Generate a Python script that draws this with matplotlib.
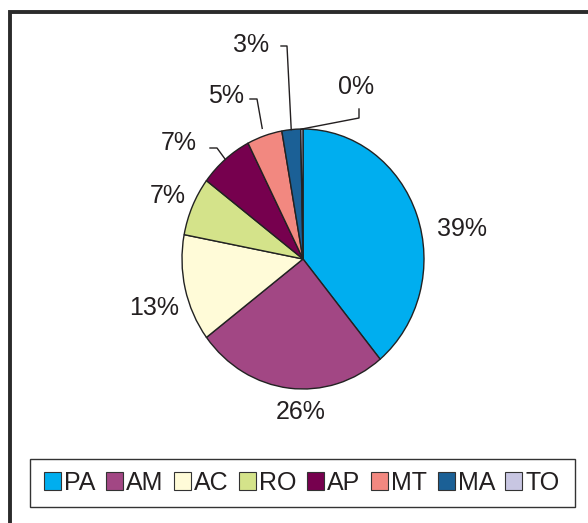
import matplotlib.pyplot as plt
import numpy as np
from matplotlib.patches import Rectangle, Patch

plt.rcParams['font.family'] = ['Liberation Sans', 'DejaVu Sans']

# data
states = ['PA', 'AM', 'AC', 'RO', 'AP', 'MT', 'MA', 'TO']
shares = [39.0, 25.7, 13.3, 7.3, 7.2, 4.7, 2.5, 0.3]
pct_labels = ['39%', '26%', '13%', '7%', '7%', '5%', '3%', '0%']
colors = ['#00AEEF', '#A24784', '#FFFBD8', '#D4E38A', '#76004E',
          '#F28880', '#1B6096', '#C8C6E2']

W, H = 588, 523
fig = plt.figure(figsize=(W / 100, H / 100), dpi=100)

# pie centre and radii in pixels
cx, cy, rx, ry = 303, 259, 121, 130
ax = fig.add_axes([(cx - rx) / W, (H - cy - ry) / H, 2 * rx / W, 2 * ry / H])

wedges, _ = ax.pie(shares, colors=colors, startangle=90, counterclock=False,
                   wedgeprops=dict(edgecolor='#222222', linewidth=1.0))
ax.set_aspect('auto')
ax.set_xlim(-1, 1)
ax.set_ylim(-1, 1)


def px(x, y):
    return (x - cx) / rx, (cy - y) / ry


# label positions (pixels)
label_pos = [(462, 229), (301, 412), (154, 308), (168, 196),
             (179, 143), (226, 96), (251, 45), (356, 87)]
for txt, (lx, ly) in zip(pct_labels, label_pos):
    x, y = px(lx, ly)
    ax.text(x, y, txt, ha='center', va='center', fontsize=18, color='#231f20')

# leader lines for the small slices: elbow points in pixels, end on the wedge edge
leaders = {4: [(210, 148), (217, 148)],
           5: [(250, 99), (257, 99)],
           6: [(281, 46), (287, 46)],
           7: [(359, 109), (359, 118)]}
for i, pts in leaders.items():
    w = wedges[i]
    mid = np.deg2rad((w.theta1 + w.theta2) / 2)
    r = 1.0 if i != 5 else 1.06
    xs = [px(*p)[0] for p in pts] + [r * np.cos(mid)]
    ys = [px(*p)[1] for p in pts] + [r * np.sin(mid)]
    ax.plot(xs, ys, color='#231f20', lw=1.0, clip_on=False)

# outer frame, cut by the image edge on the right and bottom
fig.add_artist(Rectangle((10 / W, -0.1), 1.2, (H - 12) / H + 0.1,
                         transform=fig.transFigure, fill=False,
                         edgecolor='#2b2b2b', linewidth=2.8))

# legend box
fig.add_artist(Rectangle((30 / W, 1 - 507 / H), 545 / W, 48 / H,
                         transform=fig.transFigure, fill=False,
                         edgecolor='#333333', linewidth=1.0))

handles = [Patch(facecolor=c, edgecolor='#333333', linewidth=0.8) for c in colors]
leg = fig.legend(handles, states, loc='center', bbox_to_anchor=(302 / W, 1 - 483 / H),
                 ncol=8, fontsize=18, frameon=False,
                 handlelength=0.68, handleheight=0.72, handletextpad=0.12,
                 columnspacing=0.42, borderpad=0, borderaxespad=0)
for t in leg.get_texts():
    t.set_color('#231f20')

fig.savefig('out.png', dpi=100)
